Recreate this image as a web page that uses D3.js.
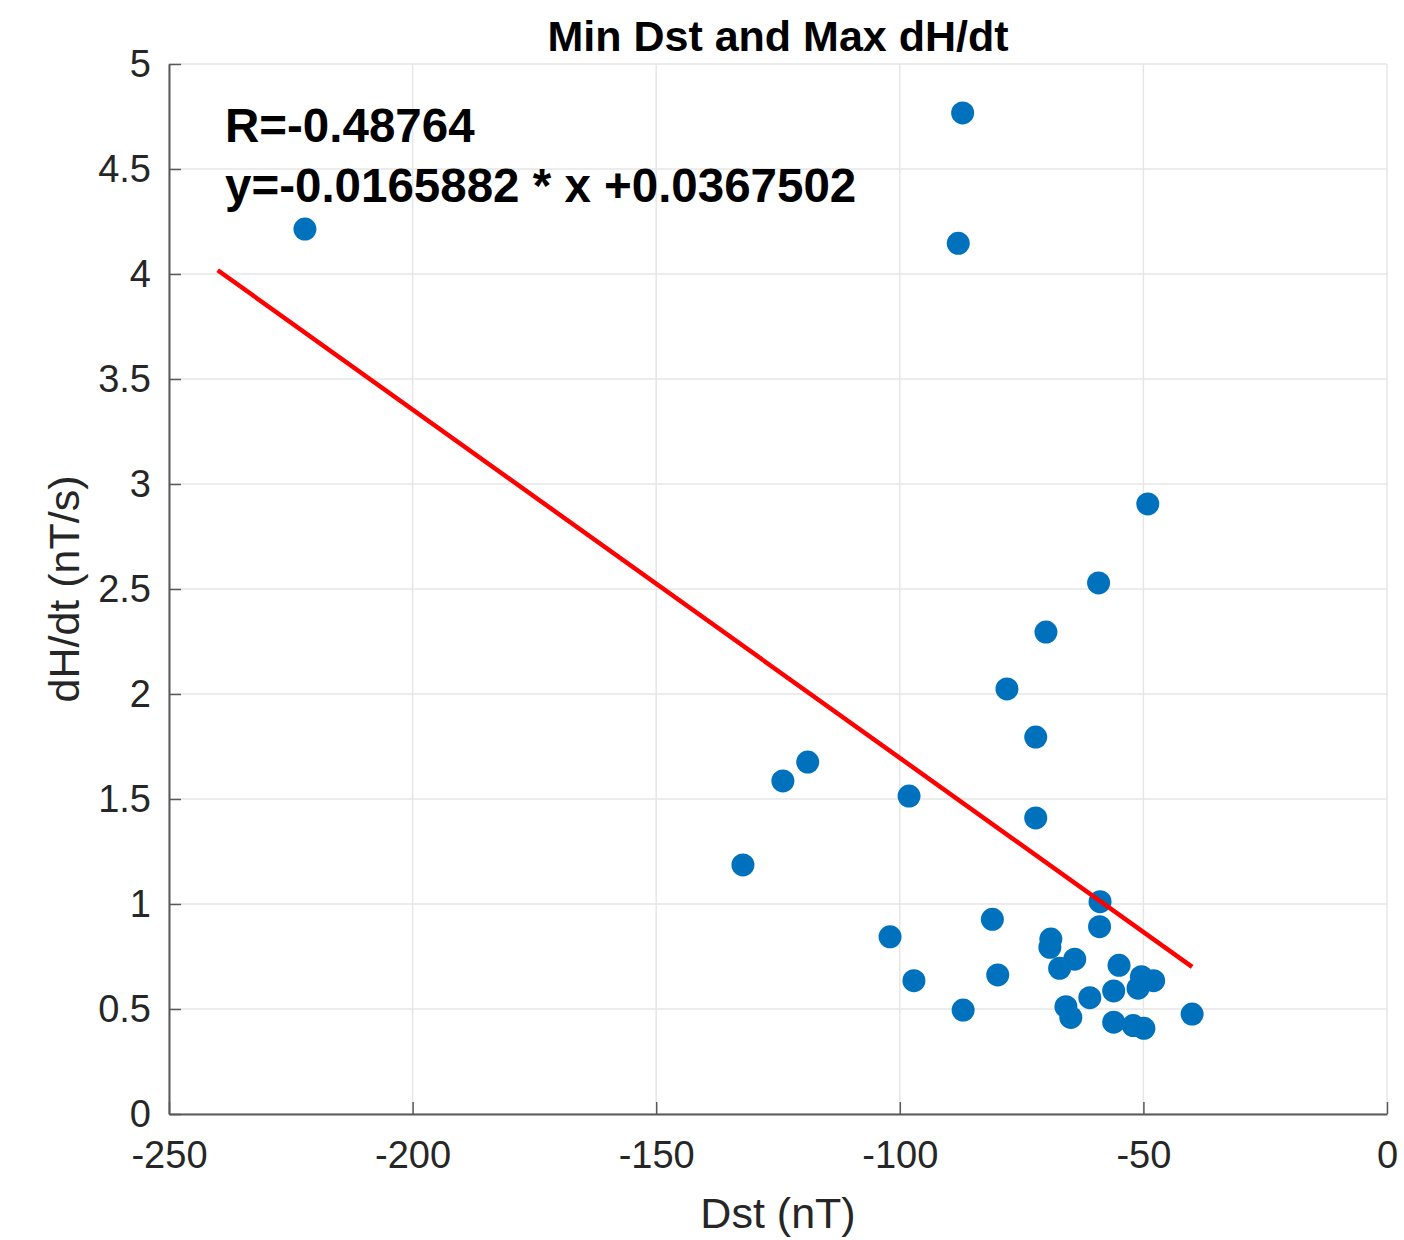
<!DOCTYPE html>
<html>
<head>
<meta charset="utf-8">
<script src="https://cdn.jsdelivr.net/npm/d3@7"></script>
<style>
  html, body { margin: 0; padding: 0; background: #fff; }
  svg { display: block; }
</style>
</head>
<body>
<div id="chart"></div>
<script>
// ---- data ----
const dstValues = [-222.1, -87.1, -88.0, -49.1, -59.2, -70.0, -78.0, -72.1, -72.1,
  -118.9, -124.0, -98.1, -132.2, -102.0, -97.1, -87.0, -81.0, -79.9,
  -58.9, -59.0, -69.0, -69.2, -64.1, -67.2, -55.0, -50.4, -47.9, -51.1,
  -56.1, -61.0, -65.9, -64.9, -56.1, -52.1, -49.9, -40.0];
const dhdtValues = [4.214, 4.767, 4.146, 2.905, 2.529, 2.295, 2.024, 1.795, 1.410,
  1.676, 1.586, 1.514, 1.186, 0.844, 0.635, 0.495, 0.927, 0.662,
  1.011, 0.892, 0.833, 0.794, 0.737, 0.694, 0.708, 0.654, 0.635, 0.599,
  0.586, 0.554, 0.511, 0.460, 0.437, 0.421, 0.408, 0.476];
const fitSlope = -0.0165882;
const fitIntercept = 0.0367502;
const fitRange = [-240, -40];
const xTicks = [-250, -200, -150, -100, -50, 0];
const yTicks = [0, 0.5, 1, 1.5, 2, 2.5, 3, 3.5, 4, 4.5, 5];
const titleText = "Min Dst and Max dH/dt";
const xLabelText = "Dst (nT)";
const yLabelText = "dH/dt (nT/s)";
const annotLines = ["R=-0.48764", "y=-0.0165882 * x +0.0367502"];

// ---- layout ----
const W = 1404, H = 1240;
const L = 169, R = 1387, T = 64, B = 1114;
const font = "'Liberation Sans', Arial, Helvetica, sans-serif";
const textColor = "#262626";
const axisColor = "#595959";

const svg = d3.select("#chart").append("svg").attr("width", W).attr("height", H);

const x = d3.scaleLinear().domain([-250, 0]).range([L, R]);
const y = d3.scaleLinear().domain([0, 5]).range([B, T]);

// grid
const grid = svg.append("g");
grid.selectAll("line.gx").data(xTicks).join("line")
  .attr("x1", d => x(d)).attr("x2", d => x(d)).attr("y1", T).attr("y2", B)
  .attr("stroke", "#e6e6e6").attr("stroke-width", 1.5);
grid.selectAll("line.gy").data(yTicks).join("line")
  .attr("y1", d => y(d)).attr("y2", d => y(d)).attr("x1", L).attr("x2", R)
  .attr("stroke", "#e6e6e6").attr("stroke-width", 1.5);

// axes
const xAxis = d3.axisBottom(x).tickValues(xTicks).tickSizeInner(-12).tickSizeOuter(0).tickPadding(27)
  .tickFormat(d => String(d));
const yAxis = d3.axisLeft(y).tickValues(yTicks).tickSizeInner(-12).tickSizeOuter(0).tickPadding(18)
  .tickFormat(d => String(d));

const gx = svg.append("g").attr("transform", `translate(0,${B})`).call(xAxis);
const gy = svg.append("g").attr("transform", `translate(${L},0)`).call(yAxis);
[gx, gy].forEach(g => {
  g.select(".domain").attr("stroke", axisColor).attr("stroke-width", 2);
  g.selectAll(".tick line").attr("stroke", axisColor).attr("stroke-width", 1.5);
  g.selectAll(".tick text").attr("fill", textColor).style("font-family", font).style("font-size", "38px");
});
gx.selectAll(".tick text").attr("dy", "0.71em");

// points
svg.append("g").selectAll("circle").data(dstValues.map((d, i) => [d, dhdtValues[i]])).join("circle")
  .attr("cx", d => x(d[0])).attr("cy", d => y(d[1])).attr("r", 11.5)
  .attr("fill", "#0072BD");

// fit line
const fitPts = fitRange.map(v => [v, fitSlope * v + fitIntercept]);
svg.append("path")
  .attr("d", d3.line().x(d => x(d[0])).y(d => y(d[1]))(fitPts))
  .attr("stroke", "#ff0000").attr("stroke-width", 4.5).attr("fill", "none");

// annotation
svg.append("g").selectAll("text").data(annotLines).join("text")
  .attr("x", 225).attr("y", (d, i) => 142 + i * 60)
  .style("font-family", font).style("font-size", "47.5px").style("font-weight", "bold")
  .attr("fill", "#000").text(d => d);

// title
svg.append("text").attr("x", (L + R) / 2).attr("y", 51).attr("text-anchor", "middle")
  .style("font-family", font).style("font-size", "43px").style("font-weight", "bold")
  .attr("fill", "#000").text(titleText);

// x label
svg.append("text").attr("x", (L + R) / 2).attr("y", 1228).attr("text-anchor", "middle")
  .style("font-family", font).style("font-size", "43px").attr("fill", textColor).text(xLabelText);

// y label
svg.append("text").attr("transform", `translate(79,${(T + B) / 2}) rotate(-90)`).attr("text-anchor", "middle")
  .style("font-family", font).style("font-size", "43px").attr("fill", textColor).text(yLabelText);
</script>
</body>
</html>
